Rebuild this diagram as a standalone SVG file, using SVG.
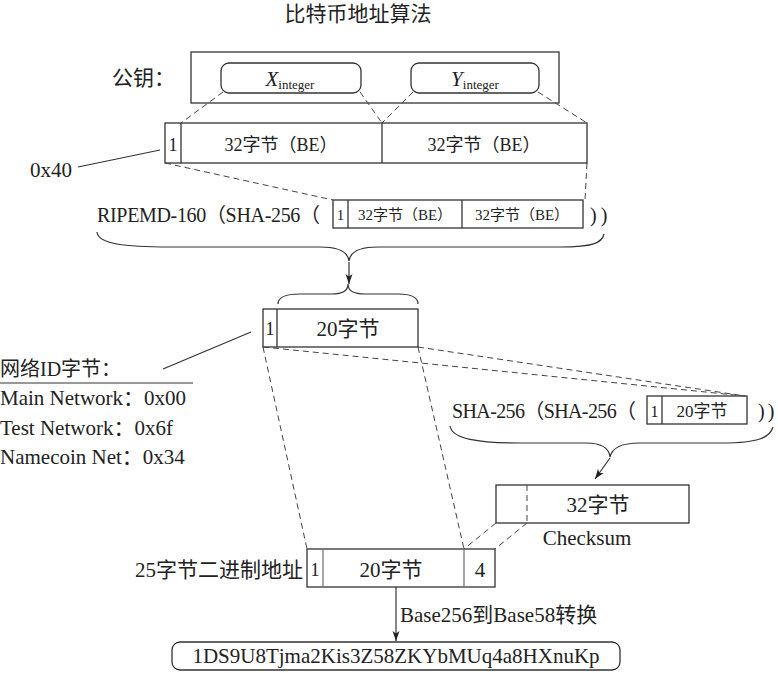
<svg xmlns="http://www.w3.org/2000/svg" width="778" height="673" viewBox="0 0 778 673">
<defs>
<marker id="ah" viewBox="0 0 10 10" refX="10" refY="5" markerWidth="10" markerHeight="10" markerUnits="userSpaceOnUse" orient="auto"><path d="M0,1.5 L10,5 L0,8.5 L2.5,5 z" fill="#222"/></marker>
</defs>
<style>
text{font-family:"Liberation Serif","Noto Sans CJK SC",serif;font-size:21px;fill:#222}
.box{fill:none;stroke:#333;stroke-width:1.3}
.dash{fill:none;stroke:#444;stroke-width:1;stroke-dasharray:6 4}
.ln{fill:none;stroke:#333;stroke-width:1.2}
.m{text-anchor:middle}
.s15{font-size:15px}
.s16{font-size:16px}
.s17{font-size:17px}
.s18{font-size:18px}
.s20{font-size:20px}
</style>
<rect width="778" height="673" fill="#fff"/>
<text id="title" x="358" y="21" class="m">比特币地址算法</text>

<g id="pubkey">
<text x="112" y="85">公钥：</text>
<rect class="box" x="191" y="52" width="368" height="51"/>
<rect class="box" x="221" y="63" width="140" height="30" rx="8"/>
<text x="290" y="86" class="m"><tspan font-style="italic">X</tspan><tspan style="font-size:13px" dy="3">integer</tspan></text>
<rect class="box" x="411" y="63" width="128" height="30" rx="8"/>
<text x="475" y="86" class="m"><tspan font-style="italic">Y</tspan><tspan style="font-size:13px" dy="3">integer</tspan></text>
</g>

<g id="row65">
<rect class="box" x="165" y="123" width="422" height="40"/>
<line class="box" x1="181" y1="123" x2="181" y2="163"/>
<line class="box" x1="382" y1="123" x2="382" y2="163"/>
<text x="173" y="151" class="m s18">1</text>
<text x="281" y="151" class="m s18">32字节（BE）</text>
<text x="484" y="151" class="m s18">32字节（BE）</text>
<text x="30" y="177">0x40</text>
</g>

<g id="ripemd">
<text x="97" y="222" class="s20" textLength="223" lengthAdjust="spacing">RIPEMD-160（SHA-256（</text>
<rect class="box" x="333" y="200" width="250" height="28"/>
<line class="box" x1="348" y1="200" x2="348" y2="228"/>
<line class="box" x1="462" y1="200" x2="462" y2="228"/>
<text x="340.5" y="220" class="m s15">1</text>
<text x="405" y="220" class="m s15">32字节（BE）</text>
<text x="522" y="220" class="m s15">32字节（BE）</text>
<text x="590" y="222" class="s20" letter-spacing="4">))</text>
</g>

<g id="hash160">
<rect class="box" x="263" y="309" width="155" height="38"/>
<line class="box" x1="277" y1="309" x2="277" y2="347"/>
<text x="270" y="335" class="m s18">1</text>
<text x="348" y="336" class="m">20字节</text>
</g>

<g id="netid">
<text x="0" y="376" class="s20">网络ID字节：</text>
<line class="ln" x1="0" y1="383" x2="193" y2="383"/>
<text x="0" y="405">Main Network：0x00</text>
<text x="0" y="435">Test Network：0x6f</text>
<text x="0" y="464">Namecoin Net：0x34</text>
</g>

<g id="sha">
<text x="452" y="418" class="s20" textLength="184" lengthAdjust="spacing">SHA-256（SHA-256（</text>
<rect class="box" x="647" y="396" width="100" height="28"/>
<line class="box" x1="662" y1="396" x2="662" y2="424"/>
<text x="654.5" y="417" class="m s16">1</text>
<text x="702" y="417" class="m s17">20字节</text>
<text x="758" y="418" class="s20" letter-spacing="3">))</text>
</g>

<g id="checksum">
<rect class="box" x="496" y="485" width="193" height="38"/>
<line class="dash" x1="527" y1="485" x2="527" y2="523"/>
<text x="598" y="512" class="m">32字节</text>
<text x="587" y="545" class="m">Checksum</text>
</g>

<g id="address">
<text x="303" y="577" text-anchor="end">25字节二进制地址</text>
<rect class="box" x="307" y="549" width="188" height="38"/>
<line class="box" x1="323" y1="549" x2="323" y2="587" style="stroke:#777"/>
<line class="box" x1="464" y1="549" x2="464" y2="587" style="stroke:#777"/>
<text x="315" y="576" class="m s18">1</text>
<text x="391" y="577" class="m">20字节</text>
<text x="480" y="577" class="m">4</text>
</g>

<g id="result">
<rect class="box" x="172" y="642" width="448" height="28" rx="8"/>
<text x="396" y="663" class="m">1DS9U8Tjma2Kis3Z58ZKYbMUq4a8HXnuKp</text>
</g>

<g id="connectors">
<line class="dash" x1="223" y1="92" x2="181" y2="123"/>
<line class="dash" x1="360" y1="92" x2="382" y2="123"/>
<line class="dash" x1="413" y1="92" x2="382" y2="123"/>
<line class="dash" x1="538" y1="92" x2="587" y2="123"/>
<line class="ln" x1="78" y1="167" x2="160" y2="150"/>
<line class="dash" x1="165" y1="163" x2="333" y2="200"/>
<line class="dash" x1="587" y1="163" x2="585" y2="200"/>
<path class="ln" d="M97,232 C98,244 125,247 170,247 L320,247 C340,247 348,252 349,261 C350,252 358,247 378,247 L560,247 C593,247 602,243 604,234"/>
<line class="ln" x1="349" y1="262" x2="349" y2="284" marker-end="url(#ah)"/>
<path class="ln" d="M278,304 C278,297 285,294 300,294 L332,294 C343,294 348,291 348,284 C348,291 353,294 365,294 L398,294 C411,294 418,297 418,304"/>
<line class="ln" x1="163" y1="369" x2="251" y2="332"/>
<line class="dash" x1="263" y1="347" x2="745" y2="396"/>
<line class="dash" x1="418" y1="347" x2="745" y2="396"/>
<line class="dash" x1="263" y1="347" x2="307" y2="549"/>
<line class="dash" x1="418" y1="347" x2="464" y2="549"/>
<path class="ln" d="M450,426 C452,439 478,443 520,443 L586,443 C602,443 609,448 610,457 C612,448 620,443 640,443 L722,443 C760,443 770,437 773,427"/>
<line class="ln" x1="610" y1="458" x2="595" y2="479" marker-end="url(#ah)"/>
<line class="dash" x1="496" y1="523" x2="464" y2="549"/>
<line class="dash" x1="527" y1="523" x2="495" y2="549"/>
<line class="ln" x1="396" y1="587" x2="396" y2="641" marker-end="url(#ah)"/>
<text x="400" y="622">Base256到Base58转换</text>
</g>
</svg>
